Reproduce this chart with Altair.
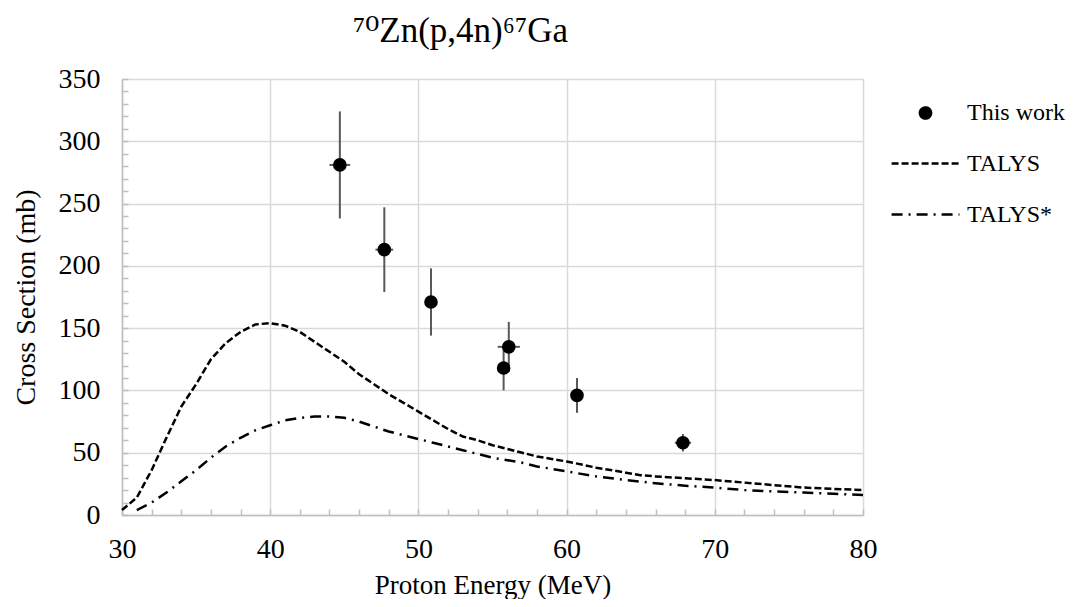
import altair as alt
import pandas as pd

# Experimental data (This work)
exp_energy = [44.7, 47.7, 50.85, 55.75, 56.1, 60.7, 67.85]
exp_energy_err = [0.7, 0.6, 0.4, 0.4, 0.75, 0.4, 0.55]
exp_xs = [281, 213, 171, 118, 135, 96, 58]
exp_xs_err = [43, 34, 27, 18, 20, 14, 7]

# TALYS
talys_energy = [30, 31, 32, 33, 34, 35, 36, 37, 38, 39, 40, 41, 42, 43, 44, 45, 46, 47, 48, 49,
                50, 51, 52, 53, 54, 55, 56, 57, 58, 59, 60, 62, 64, 65, 66, 68, 70, 72, 74, 76, 78, 80]
talys_xs = [4, 14, 36, 62, 87, 105, 125, 138, 147, 153, 154, 152, 147, 139, 131, 123, 113, 105, 97, 90,
            83, 76, 69, 63, 60, 56, 53, 50, 47, 45, 43, 38, 34, 32, 31, 29.5, 28, 26, 24, 22, 21, 20]

# TALYS*
talys2_energy = [31, 32, 33, 34, 35, 36, 37, 38, 39, 40, 41, 42, 43, 44, 45, 46, 47, 48, 49, 50,
                 51, 52, 53, 54, 55, 56, 57, 58, 59, 60, 62, 64, 66, 68, 70, 72, 74, 76, 78, 80]
talys2_xs = [4, 10, 18, 27, 36, 46, 55, 62, 68, 72, 76, 78, 79, 79, 78, 75, 71, 67, 64, 61,
             58, 55, 52, 49, 46, 44, 42, 39, 37, 35, 31, 28, 25.5, 23.5, 22, 20, 19, 18, 17, 16]

series_names = ["This work", "TALYS", "TALYS*"]
y_major = [0, 50, 100, 150, 200, 250, 300, 350]
y_minor = list(range(0, 351, 10))
x_major = [30, 40, 50, 60, 70, 80]
x_minor = list(range(30, 81, 2))

FONT = "Liberation Serif"

theory = pd.concat([
    pd.DataFrame({"E": talys_energy, "xs": talys_xs, "series": "TALYS"}),
    pd.DataFrame({"E": talys2_energy, "xs": talys2_xs, "series": "TALYS*"}),
])
exp = pd.DataFrame({
    "E": exp_energy,
    "xs": exp_xs,
    "lo": [v - e for v, e in zip(exp_xs, exp_xs_err)],
    "hi": [v + e for v, e in zip(exp_xs, exp_xs_err)],
    "Elo": [v - e for v, e in zip(exp_energy, exp_energy_err)],
    "Ehi": [v + e for v, e in zip(exp_energy, exp_energy_err)],
    "series": "This work",
})

xscale = alt.Scale(domain=[30, 80], nice=False, zero=False)
yscale = alt.Scale(domain=[0, 350], nice=False)

legend = alt.Legend(
    title=None, orient="none", legendX=768, legendY=22,
    labelFont=FONT, labelFontSize=24, labelColor="black", labelOffset=6,
    symbolStrokeWidth=2.5, rowPadding=3, symbolOpacity=1,
)
domain3 = series_names

main_x_axis = alt.Axis(values=x_major, grid=True, gridColor="#d9d9d9", gridWidth=1.5,
                       ticks=False, tickSize=0, domainColor="#bfbfbf", domainWidth=1.5,
                       labelFont=FONT, labelFontSize=28, labelColor="black", labelPadding=20,
                       labelFlush=False,
                       title="Proton Energy (MeV)", titleFont=FONT, titleFontSize=27,
                       titleFontWeight="normal", titleColor="black", titlePadding=9)
main_y_axis = alt.Axis(values=y_major, grid=True, gridColor="#d9d9d9", gridWidth=1.5,
                       ticks=False, tickSize=0, domainColor="#bfbfbf", domainWidth=1.5,
                       labelFont=FONT, labelFontSize=28, labelColor="black", labelPadding=22,
                       labelFlush=False,
                       title="Cross Section (mb)", titleFont=FONT, titleFontSize=28,
                       titleFontWeight="normal", titleColor="black", titlePadding=18)
minor_x_axis = alt.Axis(values=x_minor, grid=False, domain=False, labels=False, title=None,
                        ticks=True, tickSize=6, tickColor="#bfbfbf", tickWidth=1.5,
                        offset=-6, orient="bottom")
minor_y_axis = alt.Axis(values=y_minor, grid=False, domain=False, labels=False, title=None,
                        ticks=True, tickSize=6, tickColor="#bfbfbf", tickWidth=1.5,
                        offset=-6, orient="left")

lines = alt.Chart(theory).mark_line(color="black", strokeWidth=2.5).encode(
    x=alt.X("E:Q", scale=xscale, axis=main_x_axis),
    y=alt.Y("xs:Q", scale=yscale, axis=main_y_axis),
    strokeDash=alt.StrokeDash("series:N", scale=alt.Scale(
        domain=domain3, range=[[1, 0], [7, 3], [11, 6, 2, 6]]), legend=legend),
    detail="series:N",
)

vbars = alt.Chart(exp).mark_rule(color="#595959", strokeWidth=2).encode(
    x=alt.X("E:Q", scale=xscale, axis=minor_x_axis),
    y=alt.Y("lo:Q", scale=yscale, axis=minor_y_axis),
    y2="hi:Q",
)

hbars = alt.Chart(exp).mark_rule(color="#595959", strokeWidth=2).encode(
    x=alt.X("Elo:Q", scale=xscale, axis=None),
    x2="Ehi:Q",
    y=alt.Y("xs:Q", scale=yscale, axis=None),
)

points = alt.Chart(exp).mark_point(filled=True, strokeWidth=2.5, opacity=1).encode(
    x=alt.X("E:Q", scale=xscale, axis=None),
    y=alt.Y("xs:Q", scale=yscale, axis=None),
    shape=alt.Shape("series:N", scale=alt.Scale(
        domain=domain3, range=["circle", "stroke", "stroke"]), legend=legend),
    size=alt.Size("series:N", scale=alt.Scale(
        type="ordinal", domain=domain3, range=[125, 4600, 4600]), legend=legend),
    fill=alt.Fill("series:N", scale=alt.Scale(
        domain=domain3, range=["black", "transparent", "transparent"]), legend=legend),
    stroke=alt.Stroke("series:N", scale=alt.Scale(
        domain=domain3, range=["black", "black", "black"]), legend=legend),
)

chart = alt.layer(lines, vbars, hbars, points).resolve_axis(
    x="independent", y="independent"
).properties(
    width=741, height=436,
    autosize=alt.AutoSizeParams(type="none"),
    padding={"left": 114, "top": 71, "right": 208, "bottom": 84},
    title=alt.TitleParams("⁷⁰Zn(p,4n)⁶⁷Ga", font="Liberation Serif, DejaVu Serif",
                          fontSize=35, fontWeight="normal",
                          color="black", anchor="middle", dx=-32, dy=22,
                          baseline="alphabetic", offset=10),
).configure_view(stroke=None).configure(font=FONT)

chart.save("out.html", embed_options={"renderer": "svg", "actions": False})
